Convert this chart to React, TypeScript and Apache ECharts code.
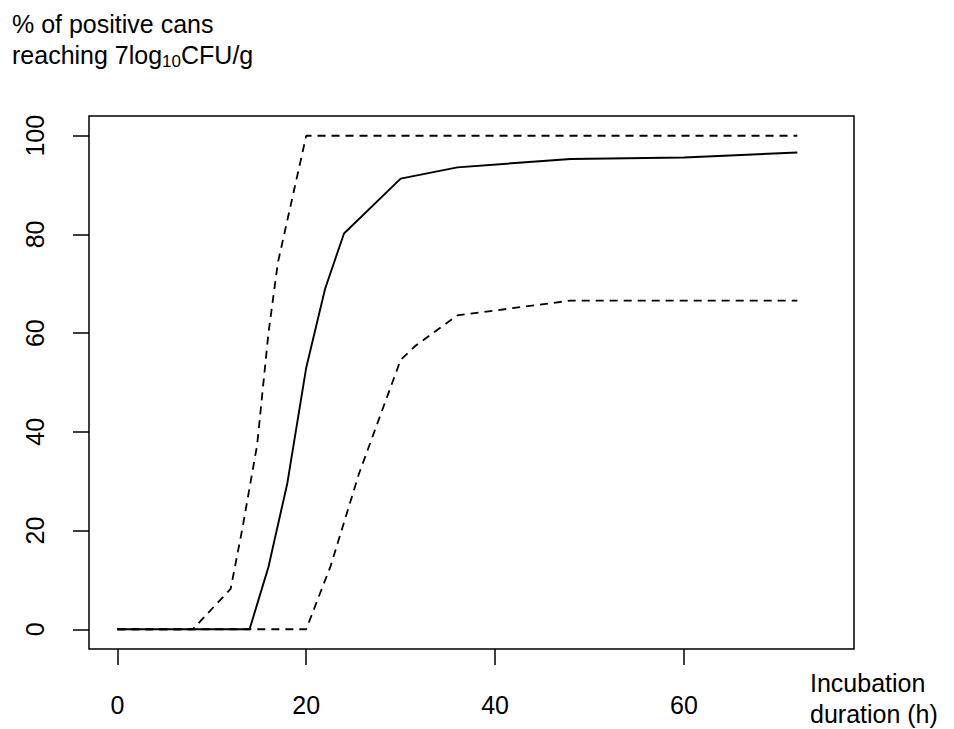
import React, { useEffect, useRef } from "react";
import * as echarts from "echarts";

// Incubation duration (h) and % of positive cans reaching 7 log10 CFU/g
const meanHours = [0, 14, 16, 18, 20, 22, 24, 30, 36, 48, 60, 72];
const meanPct = [0, 0, 12.6, 29.6, 53, 69, 80.2, 91.3, 93.6, 95.3, 95.6, 96.6];

const upperHours = [0, 8, 12, 13.2, 14.8, 16, 17, 20, 72];
const upperPct = [0, 0, 8.2, 20, 37.3, 60, 74.3, 100, 100];

const lowerHours = [0, 20, 22.6, 25.6, 30, 31.6, 36, 48, 72];
const lowerPct = [0, 0, 12.9, 31.6, 54.6, 57.5, 63.6, 66.6, 66.6];

const xTicks = [0, 20, 40, 60];
const yTicks = [0, 20, 40, 60, 80, 100];

const FONT = "'Liberation Sans', Arial, Helvetica, sans-serif";
const FS = 25;

const pairs = (xs: number[], ys: number[]) => xs.map((x, i) => [x, ys[i]]);

export default function App() {
  const ref = useRef<HTMLDivElement>(null);
  useEffect(() => {
    if (!ref.current) return;
    const chart = echarts.init(ref.current, undefined, { renderer: "svg" });
    const lineBase = { type: "line", showSymbol: false, symbol: "none", silent: true };
    chart.setOption({
      animation: false,
      backgroundColor: "#fff",
      grid: {
        left: 89,
        top: 116,
        width: 765,
        height: 533,
        show: true,
        borderColor: "#000",
        borderWidth: 1.5,
        backgroundColor: "transparent",
      },
      xAxis: {
        type: "value",
        position: "bottom",
        min: -3,
        max: 78,
        axisLine: { show: false, onZero: false },
        splitLine: { show: false },
        axisTick: {
          show: true,
          inside: false,
          customValues: xTicks,
          length: 16,
          lineStyle: { color: "#000", width: 1.5 },
        },
        axisLabel: {
          customValues: xTicks,
          margin: 43,
          fontSize: FS,
          color: "#000",
          fontFamily: FONT,
        },
      },
      yAxis: {
        type: "value",
        position: "left",
        min: -4,
        max: 104,
        axisLine: { show: false, onZero: false },
        splitLine: { show: false },
        axisTick: {
          show: true,
          inside: false,
          customValues: yTicks,
          length: 16,
          lineStyle: { color: "#000", width: 1.5 },
        },
        axisLabel: {
          customValues: yTicks,
          rotate: 90,
          margin: 42,
          fontSize: FS,
          color: "#000",
          fontFamily: FONT,
        },
      },
      series: [
        {
          ...lineBase,
          name: "mean",
          data: pairs(meanHours, meanPct),
          lineStyle: { color: "#000", width: 1.9, type: "solid" },
        },
        {
          ...lineBase,
          name: "upper",
          data: pairs(upperHours, upperPct),
          lineStyle: { color: "#000", width: 1.8, type: [8, 6] },
        },
        {
          ...lineBase,
          name: "lower",
          data: pairs(lowerHours, lowerPct),
          lineStyle: { color: "#000", width: 1.8, type: [8, 6] },
        },
      ],
      graphic: [
        {
          type: "text",
          left: 12,
          top: 11,
          style: {
            text: "{a|% of positive cans}\n{a|reaching 7log}{s|10}{a|CFU/g}",
            rich: {
              a: { fontSize: FS, lineHeight: 31, fontFamily: FONT, fill: "#000" },
              s: { fontSize: 17, lineHeight: 21, fontFamily: FONT, fill: "#000", verticalAlign: "bottom" },
            },
            fill: "#000",
          },
        },
        {
          type: "text",
          left: 810,
          top: 667,
          style: {
            text: "Incubation\nduration (h)",
            fontSize: FS,
            lineHeight: 31,
            fontFamily: FONT,
            fill: "#000",
          },
        },
      ],
    });
    return () => chart.dispose();
  }, []);
  return (
    <div
      ref={ref}
      style={{ position: "fixed", left: 0, top: 0, width: 954, height: 729, background: "#fff" }}
    />
  );
}
